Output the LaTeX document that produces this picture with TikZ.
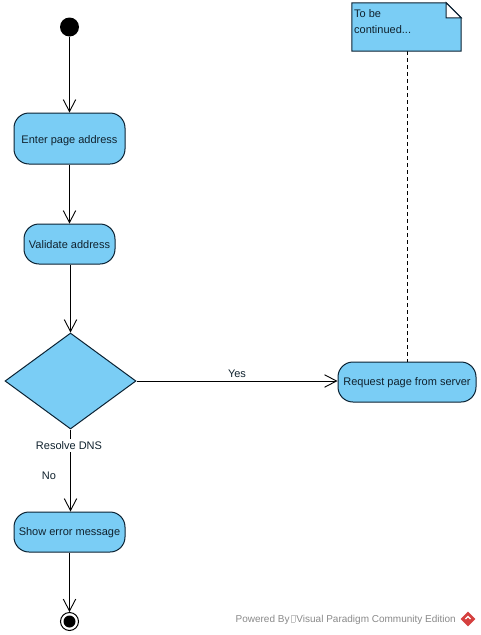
\documentclass[tikz,border=0pt]{standalone}
\usepackage{fontspec}
\setmainfont{Liberation Sans}
\usetikzlibrary{shapes.geometric,arrows.meta}
\definecolor{vpfill}{HTML}{7ACDF5}
\definecolor{vpline}{HTML}{0B2233}
\definecolor{vptext}{HTML}{10222E}
\definecolor{vpgrey}{HTML}{8A8A8A}
\definecolor{vpred}{HTML}{D5403F}
\tikzset{
  x=1pt,y=-1pt,
  every node/.style={font=\fontsize{11}{13}\selectfont,text=vptext,inner sep=0pt},
  action/.style={draw=vpline,fill=vpfill,line width=1pt,rounded corners=15pt,align=center,text height=9.5pt,text depth=0.5pt},
  actionup/.style={action,text height=8.5pt,text depth=1.5pt},
  decision/.style={draw=vpline,fill=vpfill,line width=1pt,diamond,aspect=1.365},
  flow/.style={draw=black,line width=0.9pt,-{Straight Barb[length=12pt,width=12.5pt,line width=0.9pt]}},
  notelink/.style={draw=black,line width=0.9pt,dash pattern=on 4pt off 3pt},
  lbl/.style={font=\fontsize{11}{13}\selectfont,text=vptext},
}
\begin{document}
\begin{tikzpicture}
\useasboundingbox (0,0) rectangle (480,635);
\fill[white] (0,0) rectangle (480,635);
\node[minimum width=109pt,minimum height=48pt] (note) at (406.5,27) {};
\node[actionup,minimum width=138pt,minimum height=40pt] (request) at (407,382) {Request page from server};
\draw[notelink] (note.south -| request.north) -- (request.north);
\draw[draw=vpline,fill=vpfill,line width=1pt] (note.north west) -- ([xshift=-15pt]note.north east) -- ([yshift=-15pt]note.north east) -- (note.south east) -- (note.south west) -- cycle;
\draw[draw=vpline,fill=white,line width=1pt] ([xshift=-15pt]note.north east) -- ([xshift=-15pt,yshift=-15pt]note.north east) -- ([yshift=-15pt]note.north east) -- cycle;
\node[anchor=north west,align=left,font=\fontsize{11}{16}\selectfont] (notetext) at (354,9) {To be\\continued...};

\node[circle,fill=black,minimum size=19pt] (start) at (69.5,27) {};
\node[action,minimum width=111pt,minimum height=51pt] (enter) at (69.5,138.5) {Enter page address};
\node[action,minimum width=91pt,minimum height=40pt] (validate) at (69.5,244) {Validate address};
\node[decision,minimum width=131pt,minimum height=96pt] (dns) at (70.5,381) {};
\node[actionup,minimum width=111pt,minimum height=40pt] (error) at (69.5,532) {Show error message};
\node[circle,draw=black,fill=white,line width=1pt,minimum size=18pt] (end) at (69.5,621.5) {};
\node[circle,fill=black,minimum size=12pt] (endin) at (69.5,621.5) {};

\draw[flow] (start) -- (enter);
\draw[flow] (enter) -- (validate);
\draw[flow] (validate.south -| dns.north) -- (dns.north);
\draw[flow] (dns.east) -- node[lbl,above=2.5pt,pos=0.5] (yes) {Yes} (dns.east -| request.west);
\draw[flow] (dns.south) -- (error.north -| dns.south);
\draw[flow] (error) -- (end);
\node[lbl,fill=white,inner ysep=2pt,inner xsep=1pt] (dnslabel) at (69,445.5) {Resolve DNS};
\node[lbl] (no) at (49,475.5) {No};

\node[anchor=east,font=\fontsize{10}{12}\selectfont,text=vpgrey] (powered) at (456,619.5) {Powered By\,{\fboxsep=0pt\fboxrule=0.3pt\textcolor{vpgrey!50}{\fbox{\rule{0pt}{7pt}\hspace{3pt}}}}\,Visual Paradigm Community Edition};
\node[diamond,fill=vpred,minimum size=15pt] (logo) at (468,619) {};
\draw[white,line width=1.3pt] (465.5,619) -- (468,616.5) -- (470.5,619);
\end{tikzpicture}
\end{document}
